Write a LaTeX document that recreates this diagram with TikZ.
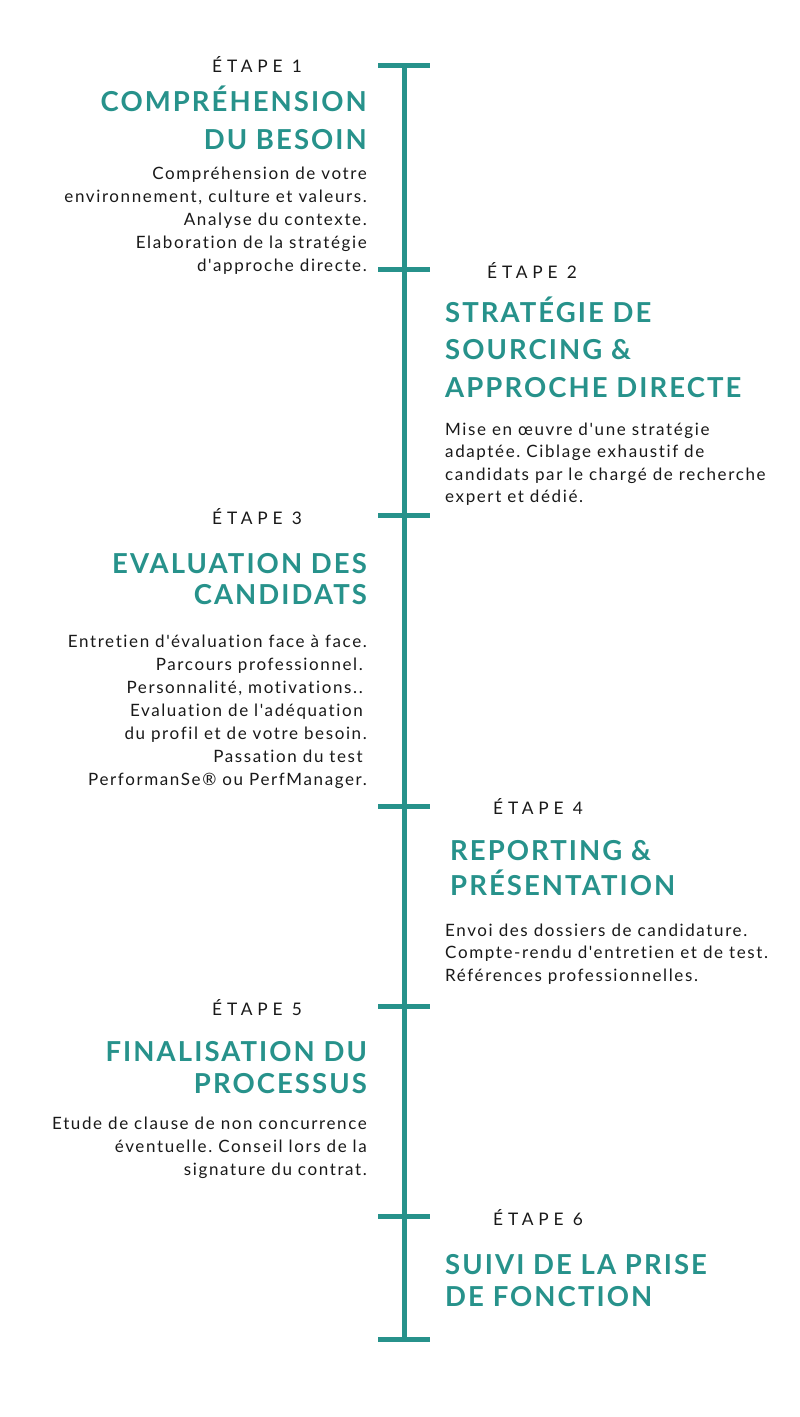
\documentclass[tikz,border=0pt]{standalone}
\usepackage{fontspec}
\setmainfont{Lato}
\newfontfamily\headfont[LetterSpace=7.5,Ligatures=NoCommon]{Lato}
\newfontfamily\etapefont[LetterSpace=28,Ligatures=NoCommon]{Lato}
\newfontfamily\bodyfont[LetterSpace=9.5,Ligatures=NoCommon]{Lato}
\definecolor{tealc}{RGB}{39,146,139}
\definecolor{ink}{RGB}{25,25,25}
\newcommand{\colR}[1]{\begin{tabular}[t]{@{}r@{}}#1\end{tabular}}
\newcommand{\colL}[1]{\begin{tabular}[t]{@{}l@{}}#1\end{tabular}}
\tikzset{
  etape/.style={inner sep=0pt, text=ink, font=\frenchspacing\etapefont\fontsize{17.3}{17}\selectfont, anchor=base west},
  headR/.style={inner sep=0pt, text=tealc, font=\frenchspacing\headfont\bfseries\fontsize{27.5}{#1}\selectfont, anchor=base east},
  headL/.style={inner sep=0pt, text=tealc, font=\frenchspacing\headfont\bfseries\fontsize{27.5}{#1}\selectfont, anchor=base west},
  bodyR/.style={inner sep=0pt, text=ink, font=\frenchspacing\bodyfont\fontsize{17}{#1}\selectfont, anchor=base east},
  bodyL/.style={inner sep=0pt, text=ink, font=\frenchspacing\bodyfont\fontsize{17}{#1}\selectfont, anchor=base west},
  spine/.style={draw=tealc, line width=5.5pt},
  tick/.style={draw=tealc, line width=5pt}
}
\begin{document}
\begin{tikzpicture}[x=1pt,y=-1pt]
\useasboundingbox[fill=white] (0,0) rectangle (800,1417);
% spine and ticks
\coordinate (s0) at (404.5,65);
\coordinate (s6) at (404.5,1339);
\draw[spine] (s0) -- (s6);
\foreach \i/\yy in {0/65,1/269,2/515,3/806,4/1006,5/1216,6/1339}{
  \coordinate (tl\i) at (378,\yy);
  \coordinate (tr\i) at (430,\yy);
  \draw[tick] (tl\i) -- (tr\i);
}
% Step 1
\node[etape] (e1) at (212,72) {ÉTAPE 1};
\node[headR=38] (h1) at (367,111) {\colR{COMPRÉHENSION\\DU BESOIN}};
\node[bodyR=23] (b1) at (367,179) {\colR{Compréhension de votre\\environnement, culture et valeurs.\\Analyse du contexte.\\Elaboration de la stratégie\\d'approche directe.}};
% Step 2
\node[etape] (e2) at (487,278) {ÉTAPE 2};
\node[headL=37.5] (h2) at (445,322) {\colL{STRATÉGIE DE\\SOURCING \&\\APPROCHE DIRECTE}};
\node[bodyL=22.5] (b2) at (445,435) {\colL{Mise en œuvre d'une stratégie\\adaptée. Ciblage exhaustif de\\candidats par le chargé de recherche\\expert et dédié.}};
% Step 3
\node[etape] (e3) at (212,524) {ÉTAPE 3};
\node[headR=31.5] (h3) at (367,573) {\colR{EVALUATION DES\\CANDIDATS}};
\node[bodyR=23] (b3) at (367,647) {\colR{Entretien d'évaluation face à face.\\Parcours professionnel.\hspace*{4pt}\\Personnalité, motivations..\hspace*{4pt}\\Evaluation de l'adéquation\hspace*{4pt}\\du profil et de votre besoin.\\Passation du test\hspace*{4pt}\\PerformanSe® ou PerfManager.}};
% Step 4
\node[etape] (e4) at (493,814) {ÉTAPE 4};
\node[headL=32] (h4) at (450,860) {\colL{REPORTING \&\\PRÉSENTATION}};
\node[bodyL=22.5] (b4) at (445,936) {\colL{Envoi des dossiers de candidature.\\Compte-rendu d'entretien et de test.\\Références professionnelles.}};
% Step 5
\node[etape] (e5) at (212,1015) {ÉTAPE 5};
\node[headR=32] (h5) at (367,1061) {\colR{FINALISATION DU\\PROCESSUS}};
\node[bodyR=23] (b5) at (367,1129) {\colR{Etude de clause de non concurrence\\éventuelle. Conseil lors de la\\signature du contrat.}};
% Step 6
\node[etape] (e6) at (493,1225) {ÉTAPE 6};
\node[headL=32] (h6) at (445,1274) {\colL{SUIVI DE LA PRISE\\DE FONCTION}};
\end{tikzpicture}
\end{document}
